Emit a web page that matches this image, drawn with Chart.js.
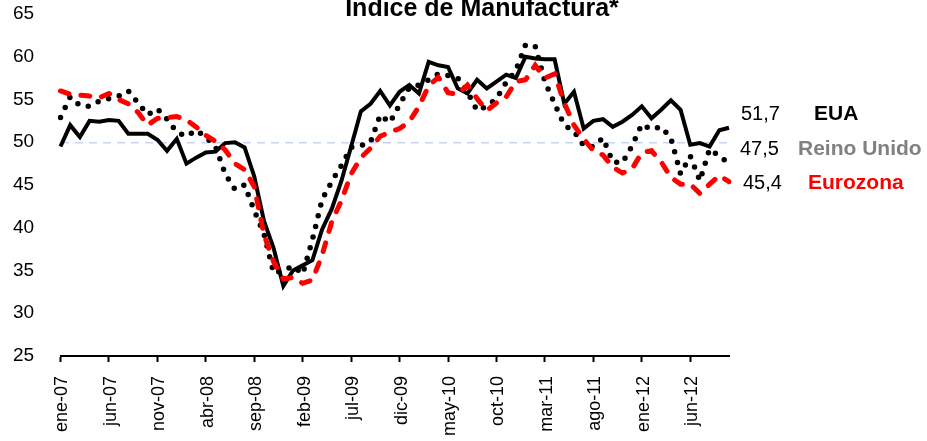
<!DOCTYPE html>
<html><head><meta charset="utf-8">
<script src="https://cdn.jsdelivr.net/npm/chart.js@4.4.1/dist/chart.umd.min.js"></script>
<style>html,body{margin:0;padding:0;background:#fff;}#wrap{width:927px;height:441px;}</style>
</head><body><div id="wrap"><canvas id="c" width="927" height="441"></canvas></div>
<script>
const titleText = 'Índice de Manufactura*';
const categories = [
 'ene-07','feb-07','mar-07','abr-07','may-07','jun-07','jul-07','ago-07','sep-07','oct-07','nov-07','dic-07',
 'ene-08','feb-08','mar-08','abr-08','may-08','jun-08','jul-08','ago-08','sep-08','oct-08','nov-08','dic-08',
 'ene-09','feb-09','mar-09','abr-09','may-09','jun-09','jul-09','ago-09','sep-09','oct-09','nov-09','dic-09',
 'ene-10','feb-10','mar-10','abr-10','may-10','jun-10','jul-10','ago-10','sep-10','oct-10','nov-10','dic-10',
 'ene-11','feb-11','mar-11','abr-11','may-11','jun-11','jul-11','ago-11','sep-11','oct-11','nov-11','dic-11',
 'ene-12','feb-12','mar-12','abr-12','may-12','jun-12','jul-12','ago-12','sep-12','oct-12'];
const eua = [
 49.5,52.0,50.6,52.5,52.4,52.6,52.5,51.0,51.0,51.0,50.3,49.0,
 50.4,47.5,48.2,48.8,48.9,49.9,50.0,49.4,46.0,40.8,37.6,33.2,
 35.0,35.6,36.2,39.8,42.2,45.5,49.5,53.6,54.5,56.0,54.3,55.9,
 56.7,55.7,59.4,59.0,58.8,56.3,55.7,57.3,56.3,57.1,57.9,57.5,
 60.0,59.8,59.7,59.7,54.5,55.9,51.6,52.5,52.7,51.8,52.4,53.2,
 54.2,52.8,53.8,54.9,53.8,49.7,49.9,49.5,51.4,51.7];
const reinoUnido = [
 52.9,55.3,54.3,54.2,54.8,55.1,55.4,56.0,54.6,53.2,53.9,52.7,
 51.2,50.7,51.4,50.6,49.5,46.3,44.5,45.0,42.0,39.3,34.7,35.0,
 35.5,34.6,38.6,43.3,45.4,47.3,49.4,49.6,50.0,53.2,52.3,54.4,
 56.4,56.7,57.3,58.0,57.8,57.5,55.9,53.7,54.2,55.1,57.0,58.4,
 61.4,61.2,57.1,54.5,52.0,51.3,49.6,49.5,50.5,47.7,47.6,49.6,
 52.1,51.5,51.8,50.5,46.3,48.4,45.5,49.2,48.4,47.5];
const eurozona = [
 56.0,55.6,55.5,55.4,55.2,55.7,55.0,54.5,53.5,52.0,52.8,52.9,
 53.0,52.6,51.8,50.8,50.1,49.1,47.5,46.8,44.8,39.2,36.0,34.0,
 34.2,33.5,33.9,36.8,40.7,43.2,46.3,48.2,49.3,50.7,51.2,51.6,
 52.4,54.2,56.6,57.6,55.8,55.6,56.7,55.1,53.7,54.6,55.3,57.1,
 57.3,59.0,57.5,58.0,54.6,52.0,50.4,49.0,48.5,47.1,46.4,46.9,
 48.8,49.0,47.7,45.9,45.1,45.1,44.0,45.1,46.1,45.4];
const seriesNames = ['EUA','Reino Unido','Eurozona'];
const yMin = 25, yMax = 65, yStep = 5, refLine = 50;

const fmt = v => v.toFixed(1).replace('.', ',');

const annotPlugin = {
  id: 'annot',
  afterDraw(chart) {
    const ctx = chart.ctx;
    const ca = chart.chartArea;
    ctx.save();
    ctx.textBaseline = 'alphabetic';
    ctx.textAlign = 'center';
    ctx.fillStyle = '#000';
    ctx.font = 'bold 25px "Liberation Sans", Arial, sans-serif';
    ctx.fillText(titleText, 482, 16);
    ctx.textBaseline = 'middle';
    ctx.textAlign = 'left';
    const rows = [
      {val: eua[eua.length-1], name: seriesNames[0], col: '#000000', y: 114, nx: ca.right + 12, lx: ca.right + 85},
      {val: reinoUnido[reinoUnido.length-1], name: seriesNames[1], col: '#808080', y: 149, nx: ca.right + 11, lx: ca.right + 69},
      {val: eurozona[eurozona.length-1], name: seriesNames[2], col: '#FF0000', y: 183, nx: ca.right + 14, lx: ca.right + 79}
    ];
    rows.forEach(r => {
      ctx.font = '20px "Liberation Sans", Arial, sans-serif';
      ctx.fillStyle = '#000';
      ctx.fillText(fmt(r.val), r.nx, r.y);
      ctx.font = 'bold 21px "Liberation Sans", Arial, sans-serif';
      ctx.fillStyle = r.col;
      ctx.fillText(r.name, r.lx, r.y);
    });
    ctx.restore();
  }
};

new Chart(document.getElementById('c'), {
  type: 'line',
  data: {
    labels: categories,
    datasets: [
      {label: seriesNames[2], data: eurozona, borderColor: '#FF0000', borderWidth: 5,
       borderDash: [9, 12], borderCapStyle: 'round', pointRadius: 0, tension: 0, fill: false},
      {label: seriesNames[0], data: eua, borderColor: '#000000', borderWidth: 4,
       pointRadius: 0, tension: 0, fill: false},
      {label: seriesNames[1], data: reinoUnido, borderColor: '#000000', borderWidth: 5.5,
       borderDash: [0, 11], borderCapStyle: 'round', pointRadius: 0, tension: 0, fill: false}
    ]
  },
  options: {
    responsive: false,
    animation: false,
    devicePixelRatio: 1,
    layout: {padding: {top: 14, right: 198, left: 13, bottom: 0}},
    plugins: {legend: {display: false}, tooltip: {enabled: false}, title: {display: false}},
    scales: {
      x: {
        type: 'category',
        offset: false,
        afterFit: s => { s.height = 85; },
        border: {display: true, color: '#000', width: 2},
        grid: {display: true, drawOnChartArea: false, drawTicks: true, tickLength: 6, tickWidth: 2,
               tickColor: ctx => (ctx.index % 5 === 0 ? '#000' : 'rgba(0,0,0,0)')},
        ticks: {autoSkip: false, minRotation: 90, maxRotation: 90, padding: 14, labelOffset: 2,
                color: '#000', font: {family: '"Liberation Sans", Arial, sans-serif', size: 18},
                callback: (v, i) => (i % 5 === 0 ? categories[i] : '')}
      },
      y: {
        min: yMin, max: yMax,
        afterFit: s => { s.width = 47.5; },
        border: {display: false, dash: [8, 6]},
        grid: {drawTicks: false, lineWidth: 1.5,
               color: ctx => (ctx.tick && ctx.tick.value === refLine ? '#c5d5ee' : 'rgba(0,0,0,0)')},
        ticks: {stepSize: yStep, padding: 0, crossAlign: 'far', color: '#000',
                font: {family: '"Liberation Sans", Arial, sans-serif', size: 19}}
      }
    }
  },
  plugins: [annotPlugin]
});
</script>
</body></html>
